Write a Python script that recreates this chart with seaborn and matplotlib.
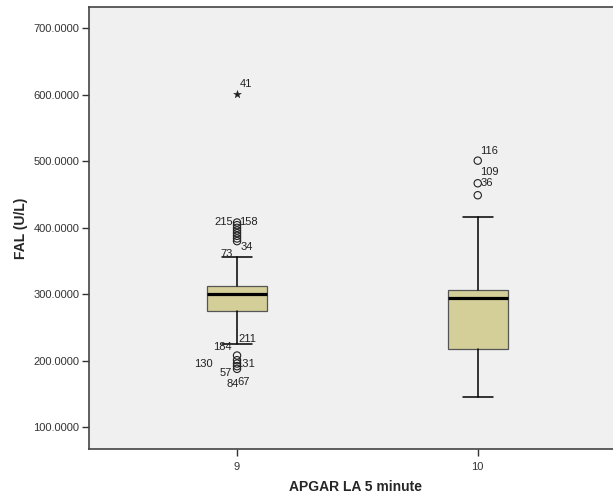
import matplotlib
matplotlib.use("Agg")
import matplotlib.pyplot as plt
import seaborn as sns
import pandas as pd
from matplotlib.ticker import FuncFormatter

# Five-number summaries per APGAR group
groups = ["9", "10"]
q1 = [275, 218]
median = [300, 294]
q3 = [313, 307]
whisker_low = [225, 146]
whisker_high = [356, 416]

# Outliers (circles) and extreme values (stars)
outlier_group = [0, 0, 0, 0, 0, 0, 0, 0, 0, 0, 0, 0, 0, 1, 1, 1]
outlier_value = [408, 404, 400, 396, 392, 388, 384, 380,
                 208, 201, 196, 192, 188,
                 501, 467, 449]
extreme_group = [0]
extreme_value = [601]

# Case labels: (group, anchor value, text, dx px, dy px)
case_labels = [
    (0, 408, "215", -13.5, -1),
    (0, 408, "158", 11.5, -1),
    (0, 380, "73", -10.5, 12.5),
    (0, 380, "34", 9.5, 5.5),
    (0, 225, "184", -15, 2.5),
    (0, 225, "211", 10, -5.5),
    (0, 196, "130", -33.5, 0.5),
    (0, 196, "131", 8.5, 0.5),
    (0, 188, "57", -11.5, 4),
    (0, 188, "84", -4.5, 15),
    (0, 188, "67", 7, 13),
    (0, 601, "41", 8.5, -10),
    (1, 501, "116", 11.5, -10),
    (1, 501, "109", 11.5, 11),
    (1, 467, "36", 9.5, 0),
]

y_ticks = [100, 200, 300, 400, 500, 600, 700]

sns.set_theme(style="white")
plt.rcParams["font.family"] = ["Liberation Sans", "DejaVu Sans"]

fig = plt.figure(figsize=(6.13, 4.97), dpi=100)
ax = fig.add_axes([89 / 613, 48 / 497, 1 - 89 / 613 + 0.002, 442 / 497])
ax.set_facecolor("#F0F0F0")

stats = []
for i in range(len(groups)):
    stats.append(dict(med=median[i], q1=q1[i], q3=q3[i],
                      whislo=whisker_low[i], whishi=whisker_high[i],
                      fliers=[], label=groups[i]))

ax.bxp(stats, positions=range(len(groups)), widths=0.25, capwidths=0.125,
       patch_artist=True, showfliers=False, manage_ticks=False,
       boxprops=dict(facecolor="#D4CF99", edgecolor="#555555", linewidth=0.9),
       whiskerprops=dict(color="black", linewidth=1.1),
       capprops=dict(color="black", linewidth=1.1),
       medianprops=dict(color="black", linewidth=2.3, solid_capstyle="butt"))

out_df = pd.DataFrame({"g": outlier_group, "v": outlier_value})
sns.scatterplot(data=out_df, x="g", y="v", marker="o", s=28,
                facecolor="none", edgecolor="#222222", linewidth=0.8,
                ax=ax, zorder=4, legend=False)
ext_df = pd.DataFrame({"g": extreme_group, "v": extreme_value})
sns.scatterplot(data=ext_df, x="g", y="v", marker="*", s=34,
                color="#222222", edgecolor="#222222", linewidth=0.3,
                ax=ax, zorder=4, legend=False)

px = 72 / 100
for g, v, txt, dx, dy in case_labels:
    ax.annotate(txt, xy=(g, v), xytext=(dx * px, -dy * px),
                textcoords="offset points", ha="center", va="center",
                fontsize=8, color="#222222")

ax.set_xlim(-0.615, 1.567)
ax.set_ylim(67.5, 732)
ax.set_xticks(range(len(groups)))
ax.set_xticklabels(groups)
ax.set_yticks(y_ticks)
ax.yaxis.set_major_formatter(FuncFormatter(lambda v, p: f"{v:.4f}"))

ax.tick_params(axis="both", which="both", direction="out", length=5,
               width=1, color="#333333", labelsize=8, labelcolor="#333333",
               left=True, bottom=True, pad=2)
ax.tick_params(axis="x", pad=4)

for side in ["left", "bottom", "top"]:
    ax.spines[side].set_visible(True)
    ax.spines[side].set_color("#444444")
    ax.spines[side].set_linewidth(1.2)
ax.spines["right"].set_visible(False)

ax.set_xlabel("APGAR LA 5 minute", fontsize=10, fontweight="bold")
ax.set_ylabel("FAL (U/L)", fontsize=10, fontweight="bold", labelpad=4)
ax.xaxis.set_label_coords((355 - 89) / (613 - 89 + 1.2), -31 / 442)

fig.savefig("out.png", dpi=100, facecolor="white")
